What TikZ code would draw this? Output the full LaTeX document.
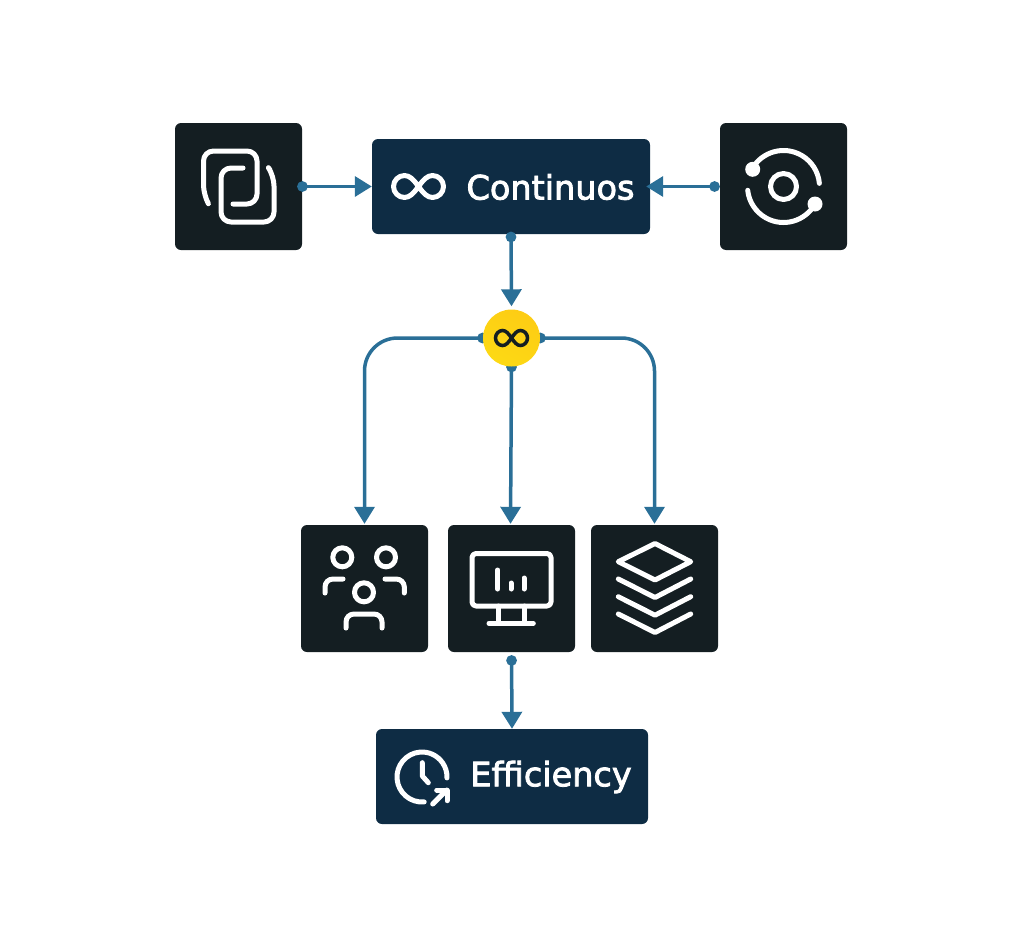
\documentclass[tikz,border=0pt]{standalone}
\usepackage{fontspec}
\setmainfont{DejaVu Sans}
\newfontfamily\boxfont[FakeBold=2.5]{DejaVu Sans}
\usetikzlibrary{calc,arrows.meta,backgrounds}
\definecolor{tilebg}{HTML}{141E22}
\definecolor{navybg}{HTML}{0E2C44}
\definecolor{linkblue}{HTML}{2A6F97}
\definecolor{hubyellow}{HTML}{FDD516}
\def\ringarc[#1](#2,#3)(#4:#5:#6){\draw[#1] ($(#2,#3)+({#6*cos(#4)},{#6*sin(#4)})$) arc (#4:#5:#6);}
\def\infsign[#1](#2,#3)(#4,#5){\draw[#1,shift={(#2,#3)},xscale=#4,yscale=#5] (0,0) .. controls (.2,-.62) and (.35,-1) .. (.56,-1) .. controls (.8,-1) and (1,-.55) .. (1,0) .. controls (1,.55) and (.8,1) .. (.56,1) .. controls (.35,1) and (.2,.62) .. (0,0) .. controls (-.2,-.62) and (-.35,-1) .. (-.56,-1) .. controls (-.8,-1) and (-1,-.55) .. (-1,0) .. controls (-1,.55) and (-.8,1) .. (-.56,1) .. controls (-.35,1) and (-.2,.62) .. (0,0) -- cycle;}
\tikzset{
	tile/.style={fill=tilebg, rounded corners=6pt, minimum width=127pt, minimum height=127pt, inner sep=0pt},
	navybox/.style={fill=navybg, rounded corners=6pt, minimum height=95pt, inner sep=0pt},
	boxtext/.style={text=white, inner sep=0pt, font=\boxfont\fontsize{33.5}{33.5}\selectfont},
	icon/.style={draw=white, line width=5pt, line cap=round, line join=round},
	link/.style={draw=linkblue, line width=3.5pt, {Circle[length=10.5pt,width=10.5pt]}-{Triangle[length=17pt,width=20pt]}}
}

\begin{document}
\begin{tikzpicture}[x=1pt,y=-1pt]
	\useasboundingbox (0,0) rectangle (1024,926);

	%%%%% BOXES %%%%%
	\node[tile] (copybox) at (238.5,186.5) {};
	\node[tile] (syncbox) at (783.5,186.5) {};
	\node[navybox, minimum width=278pt] (contbox) at (511,186.5) {};
	\node[boxtext] (conttext) at (550.5,187) {Continuos};

	\node[circle, inner sep=0pt, minimum size=57pt, bottom color=hubyellow!90!yellow, top color=hubyellow!90!orange, shading angle=-30] (hub) at (511.5,338) {};

	\node[tile] (teambox) at (364.5,588.5) {};
	\node[tile] (monitorbox) at (511.5,588.5) {};
	\node[tile] (stackbox) at (654.5,588.5) {};
	\node[navybox, minimum width=272pt] (effbox) at (512,776.5) {};
	\node[boxtext] (efftext) at (551,777) {Efficiency};

	%%%%% LINKS %%%%%
	\draw[link, shorten <=-5pt] (copybox.east) -- (contbox.west);
	\draw[link, shorten >=-4pt] (syncbox.west) -- (contbox.east);
	\draw[link, shorten <=-2.5pt, shorten >=3pt] (contbox.south) -- (hub.north);
	\draw[link, shorten <=3pt] (monitorbox.south) -- (effbox.north);
	\begin{scope}[on background layer]
		\draw[link, rounded corners=33pt, shorten <=-5pt, shorten >=1pt] (hub.west) -| (teambox.north);
		\draw[link, shorten <=-5pt, shorten >=1pt] (hub.south) -- ([xshift=-1pt]monitorbox.north);
		\draw[link, rounded corners=33pt, shorten <=-5pt, shorten >=1pt] (hub.east) -| (stackbox.north);
	\end{scope}

	%%%%% ICONS %%%%%
	\draw[icon, rounded corners=10pt] (208,203) -- (203.5,195) -- (203.5,151) -- (257,151) -- (257,204) -- (233,204);
	\draw[icon, rounded corners=10pt] (243,168) -- (221,168) -- (221,222) -- (274,222) -- (274,176) -- (270,170);

	\draw[icon] (783.5,186.5) circle (13);
	\ringarc[icon](783.5,186.5)(210:355:36);
	\ringarc[icon](783.5,186.5)(29:174:36);
	\fill[white] (752.7,169.3) circle (7.5);
	\fill[white] (815,204) circle (7.5);

	\infsign[icon, line width=5pt](418.5,186.5)(25,11);
	\infsign[draw=tilebg, line width=3.5pt](511.5,338)(16,7.5);

	\draw[icon] (342.3,557.3) circle (9.5);
	\draw[icon] (386,557.3) circle (9.5);
	\draw[icon] (364,592.3) circle (9.5);
	\draw[icon, rounded corners=8pt] (325,593) -- (325,579) -- (343,579);
	\draw[icon, rounded corners=8pt] (385,579) -- (404.3,579) -- (404.3,593);
	\draw[icon, rounded corners=8pt] (346,628) -- (346,614) -- (382,614) -- (382,628);

	\draw[icon, rounded corners=4pt] (472,553.5) rectangle (551,606);
	\draw[icon] (498.3,606) -- (498.3,623.3);
	\draw[icon] (524.3,606) -- (524.3,623.3);
	\draw[icon] (489,623.3) -- (533.3,623.3);
	\draw[icon] (497.7,570) -- (497.7,589);
	\draw[icon] (511,583) -- (511,589);
	\draw[icon] (524,578) -- (524,589);

	\draw[icon] (655,543.5) -- (690.7,561.7) -- (655,580) -- (618.3,561.7) -- cycle;
	\foreach \stepy in {579,596.7,614} {
		\draw[icon] (618.3,\stepy) -- (655,\stepy+18.5) -- (690.7,\stepy);
	}

	\ringarc[icon](422,777)(85:362:25);
	\draw[icon] (422.3,762.7) -- (422.3,776) -- (428.3,782.7);
	\draw[icon] (432.7,804) -- (446.7,790);
	\draw[icon] (436.7,790) -- (447,790) -- (447,800.7);
\end{tikzpicture}
\end{document}
